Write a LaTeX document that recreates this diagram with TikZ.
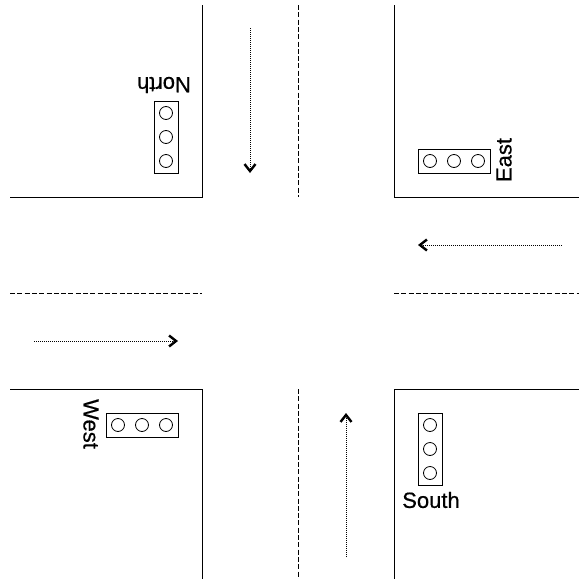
\documentclass[tikz,border=0pt]{standalone}
\usepackage{fontspec}
\setmainfont{Liberation Sans}
\newfontfamily\signfont[FakeBold=0.6]{Liberation Sans}
\usetikzlibrary{arrows.meta}
\tikzset{>={Straight Barb[length=7pt,width=11pt,line width'=2.4pt]}}
\tikzset{
curb/.style={line width=0.9pt},
centerline/.style={line width=0.8pt, dash pattern=on 5pt off 2.3pt},
flow/.style={->, line width=0.7pt, dash pattern=on 1pt off 1pt},
housing/.style={draw, line width=0.9pt, inner sep=0pt, outer sep=0pt},
lamp/.style={draw, circle, line width=0.8pt, minimum size=13pt, inner sep=0pt},
signname/.style={inner sep=0pt, font=\signfont\fontsize{22}{22}\selectfont}
}
\begin{document}
\begin{tikzpicture}[x=1pt, y=-1pt]
\useasboundingbox (0,0) rectangle (579,579);
% the four corners
\draw[curb] (202,5) -- (202,197) -- (10,197);
\draw[curb] (394,5) -- (394,197) -- (579,197);
\draw[curb] (10,389) -- (202,389) -- (202,579);
\draw[curb] (394,579) -- (394,389) -- (579,389);
% centre lines
\draw[centerline] (298,5) -- (298,197);
\draw[centerline] (298,389) -- (298,579);
\draw[centerline] (10,293) -- (202,293);
\draw[centerline] (394,293) -- (579,293);
% traffic
\coordinate (north-a) at (250,28);
\coordinate (north-b) at (250,173);
\coordinate (east-a) at (562,245);
\coordinate (east-b) at (418,245);
\coordinate (west-a) at (34,341);
\coordinate (west-b) at (178,341);
\coordinate (south-a) at (346,557);
\coordinate (south-b) at (346,413);
\draw[flow] (north-a) -- (north-b);
\draw[flow] (east-a) -- (east-b);
\draw[flow] (west-a) -- (west-b);
\draw[flow] (south-a) -- (south-b);
% signals
\node[housing, minimum width=24pt, minimum height=72pt] (north) at (166,137) {};
\node[housing, minimum width=72pt, minimum height=24pt] (east) at (454,161) {};
\node[housing, minimum width=72pt, minimum height=24pt] (west) at (142,425) {};
\node[housing, minimum width=24pt, minimum height=72pt] (south) at (430,449) {};
\foreach \i/\d in {1/-24,2/0,3/24}
{
\node[lamp] (north-\i) at ([yshift=\d pt]north.center) {};
\node[lamp] (south-\i) at ([yshift=\d pt]south.center) {};
\node[lamp] (east-\i) at ([xshift=\d pt]east.center) {};
\node[lamp] (west-\i) at ([xshift=\d pt]west.center) {};
}
\node[signname, rotate=180] (north-name) at (164,85) {North};
\node[signname, rotate=90] (east-name) at (504,160) {East};
\node[signname, rotate=-90] (west-name) at (91,424) {West};
\node[signname] (south-name) at (431,500) {South};
\end{tikzpicture}
\end{document}
